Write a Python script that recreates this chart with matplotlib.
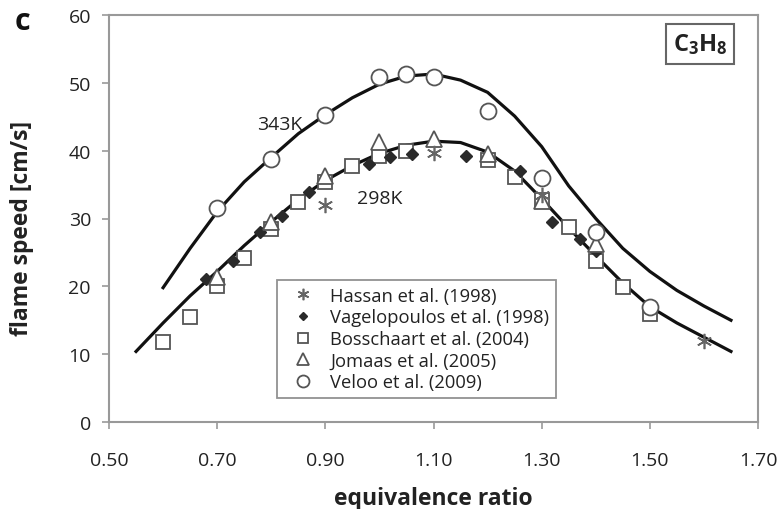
import matplotlib
matplotlib.use("Agg")
import matplotlib.pyplot as plt

plt.rcParams['font.family'] = ['Open Sans', 'DejaVu Sans']
plt.rcParams['mathtext.fontset'] = 'custom'
plt.rcParams['mathtext.rm'] = 'Open Sans'
plt.rcParams['mathtext.bf'] = 'Open Sans:bold'

# Model curves
curve343_x = [0.60, 0.65, 0.70, 0.75, 0.80, 0.85, 0.90, 0.95, 1.00, 1.05, 1.10,
              1.15, 1.20, 1.25, 1.30, 1.35, 1.40, 1.45, 1.50, 1.55, 1.60, 1.65]
curve343_y = [19.8, 25.6, 31.0, 35.4, 39.0, 42.5, 45.3, 47.8, 49.8, 51.0, 51.3,
              50.4, 48.6, 45.1, 40.6, 34.8, 30.0, 25.6, 22.2, 19.4, 17.1, 15.0]
curve298_x = [0.55, 0.60, 0.65, 0.70, 0.75, 0.80, 0.85, 0.90, 0.95, 1.00, 1.05,
              1.10, 1.15, 1.20, 1.25, 1.30, 1.35, 1.40, 1.45, 1.50, 1.55, 1.60, 1.65]
curve298_y = [10.4, 14.6, 18.6, 22.2, 26.0, 29.5, 32.8, 35.6, 37.8, 39.6, 40.8,
              41.4, 41.2, 39.8, 37.0, 32.9, 28.6, 24.5, 20.5, 17.0, 14.6, 12.5, 10.4]

# Experimental data
hassan_x = [0.90, 1.10, 1.30, 1.60]
hassan_y = [32.0, 39.6, 33.5, 12.0]
vagel_x = [0.68, 0.73, 0.78, 0.82, 0.87, 0.98, 1.02, 1.06, 1.16, 1.26, 1.32, 1.37, 1.40]
vagel_y = [21.1, 23.7, 28.0, 30.4, 33.9, 38.1, 39.1, 39.5, 39.2, 37.0, 29.5, 27.0, 25.2]
bossch_x = [0.60, 0.65, 0.70, 0.75, 0.80, 0.85, 0.90, 0.95, 1.00, 1.05,
            1.20, 1.25, 1.30, 1.35, 1.40, 1.45, 1.50]
bossch_y = [11.8, 15.5, 20.0, 24.2, 28.5, 32.4, 35.4, 37.8, 39.2, 40.0,
            38.6, 36.1, 32.7, 28.8, 23.7, 19.9, 15.9]
jomaas_x = [0.70, 0.80, 0.90, 1.00, 1.10, 1.20, 1.30, 1.40]
jomaas_y = [21.4, 29.5, 36.3, 41.3, 41.7, 39.5, 32.6, 26.2]
veloo_x = [0.70, 0.80, 0.90, 1.00, 1.05, 1.10, 1.20, 1.30, 1.40, 1.50]
veloo_y = [31.6, 38.8, 45.3, 50.8, 51.3, 50.8, 45.9, 36.0, 28.0, 17.0]

xticks = [0.50, 0.70, 0.90, 1.10, 1.30, 1.50, 1.70]
yticks = [0, 10, 20, 30, 40, 50, 60]

W, H = 782, 510
fig = plt.figure(figsize=(W / 100, H / 100), dpi=100)
ax = fig.add_axes([109/W, 1 - 423/H, (758 - 109)/W, (423 - 16)/H])

ax.plot(curve343_x, curve343_y, color='#111111', lw=2.3, zorder=2)
ax.plot(curve298_x, curve298_y, color='#111111', lw=2.3, zorder=2)

edge = '#555555'
ax.plot(bossch_x, bossch_y, ls='none', marker='s', ms=10.5, mfc='white', mec=edge,
        mew=1.3, zorder=3, label='Bosschaart et al. (2004)')
ax.plot(vagel_x, vagel_y, ls='none', marker='D', ms=6, mfc='#2a2a2a', mec='#2a2a2a',
        zorder=4, label='Vagelopoulos et al. (1998)')
ax.plot(jomaas_x, jomaas_y, ls='none', marker='^', ms=11, mfc='white', mec=edge,
        mew=1.3, zorder=5, label='Jomaas et al. (2005)')
ax.plot(hassan_x, hassan_y, ls='none', marker=(6, 2, 0), ms=11, mec='#666666',
        mew=1.2, zorder=6, label='Hassan et al. (1998)')
ax.plot(veloo_x, veloo_y, ls='none', marker='o', ms=11.5, mfc='white', mec=edge,
        mew=1.3, zorder=6, label='Veloo et al. (2009)')

handles, labels = ax.get_legend_handles_labels()
order = ['Hassan et al. (1998)', 'Vagelopoulos et al. (1998)', 'Bosschaart et al. (2004)',
         'Jomaas et al. (2005)', 'Veloo et al. (2009)']
hmap = dict(zip(labels, handles))
leg = ax.legend([hmap[k] for k in order], order, loc='upper left',
                bbox_to_anchor=(0.259, 0.348), fontsize=13.2, markerscale=0.75,
                frameon=True, fancybox=False, edgecolor='#777777',
                handlelength=2.15, handletextpad=0.4, borderpad=0.35,
                labelspacing=0.2, borderaxespad=0.0)
leg.get_frame().set_linewidth(1.3)
for t in leg.get_texts():
    t.set_color('#222222')

ax.set_xlim(0.50, 1.70)
ax.set_ylim(0, 60)
ax.set_xticks(xticks)
ax.set_xticklabels([f'{v:.2f}' for v in xticks])
ax.set_yticks(yticks)
ax.tick_params(axis='both', direction='out', length=5, width=1.2, color='#999999',
               labelsize=14, labelcolor='#222222')
ax.tick_params(axis='x', pad=16)
ax.tick_params(axis='y', pad=8)
for s in ax.spines.values():
    s.set_color('#999999')
    s.set_linewidth(1.5)

ax.set_xlabel('equivalence ratio', fontsize=16.5, fontweight='bold', color='#222222',
              labelpad=12)
ax.set_ylabel('flame speed [cm/s]', fontsize=16.5, fontweight='bold', color='#222222')
ax.yaxis.set_label_coords(34/W, 1 - 228/H, transform=fig.transFigure)

fig.text(280/W, 1 - 125/H, '343K', fontsize=14, color='#222222',
         ha='center', va='center')
fig.text(380/W, 1 - 199/H, '298K', fontsize=14, color='#222222',
         ha='center', va='center')

fig.text(22/W, 1 - 22/H, 'c', fontsize=22, fontweight='bold', color='#111111',
         ha='center', va='center')
fig.text(700/W, 1 - 45/H, r'$\mathbf{C_3H_8}$', fontsize=17, color='#222222',
         ha='center', va='center',
         bbox=dict(boxstyle='square,pad=0.3', fc='white', ec='#666666', lw=1.5))

fig.savefig('out.png', dpi=100)
